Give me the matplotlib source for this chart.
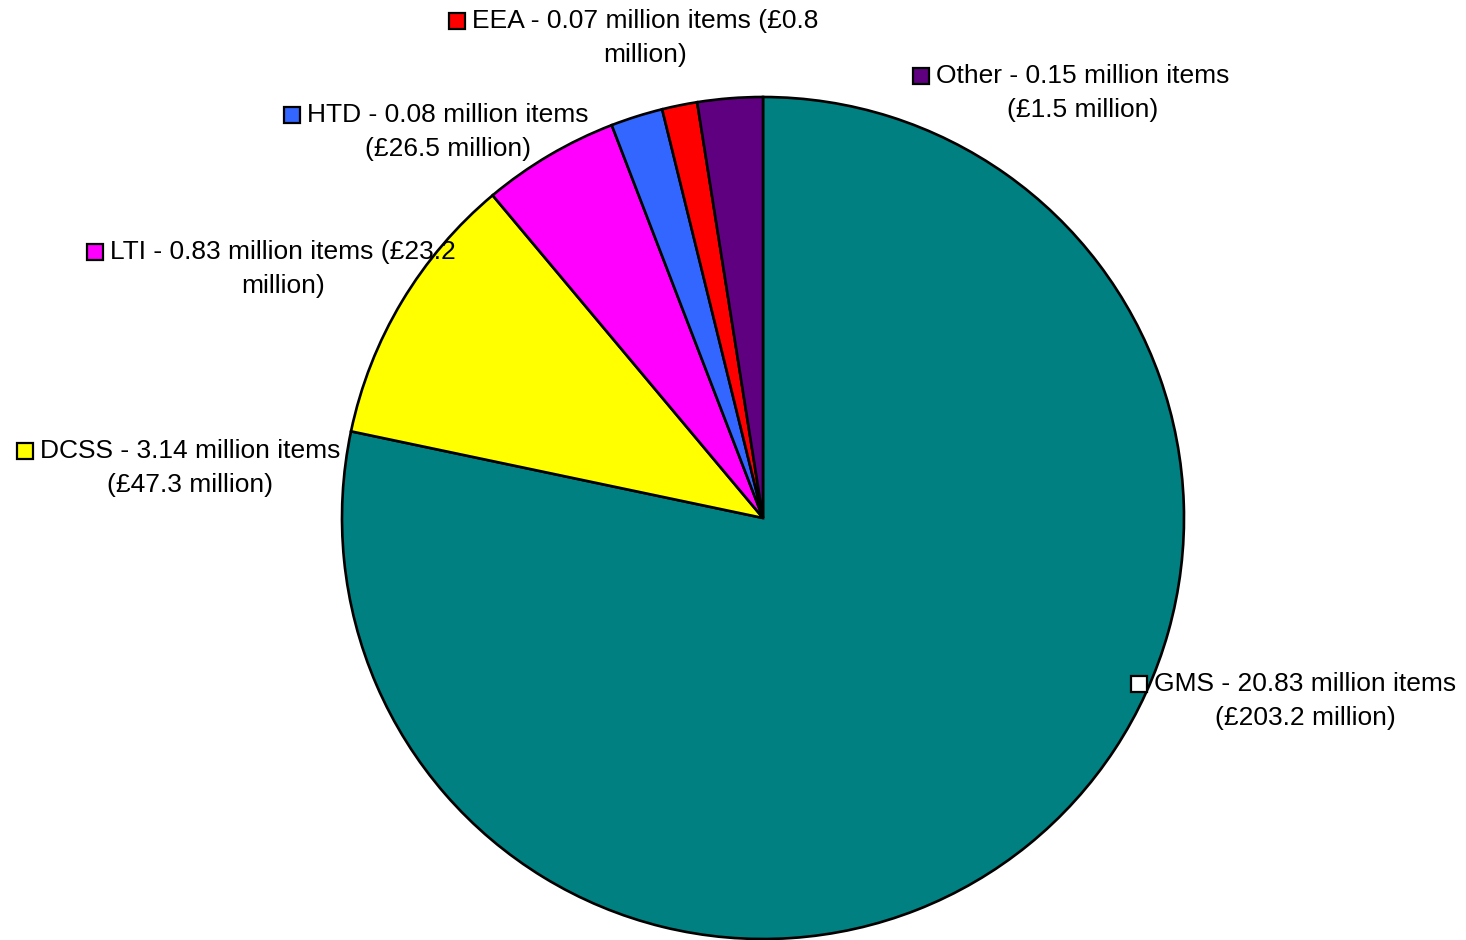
import matplotlib
matplotlib.use('Agg')
import matplotlib.pyplot as plt
from matplotlib.patches import Rectangle

plt.rcParams['font.family'] = ['Liberation Sans', 'DejaVu Sans']

# slice shares (percent of the circle)
names = ['GMS', 'DCSS', 'LTI', 'HTD', 'EEA', 'Other']
shares = [78.3, 10.6, 5.25, 2.0, 1.35, 2.5]
items = [20.83, 3.14, 0.83, 0.08, 0.07, 0.15]
costs = [203.2, 47.3, 23.2, 26.5, 0.8, 1.5]
colours = ['#008080', '#FFFF00', '#FF00FF', '#3366FF', '#FF0000', '#5E0080']
key_colours = ['white', '#FFFF00', '#FF00FF', '#3366FF', '#FF0000', '#5E0080']
# where the second line starts: after "items" or after the "(£x.x"
wrap_after_items = [True, True, False, True, False, True]

W, H = 1466, 940
fig = plt.figure(figsize=(W / 100, H / 100), dpi=100)
ax = fig.add_axes([0, 0, 1, 1])

ax.pie(shares, colors=colours, startangle=90, counterclock=False,
       center=(763, H - 518), radius=421,
       wedgeprops=dict(edgecolor='black', linewidth=1.9))
ax.set_xlim(0, W)
ax.set_ylim(0, H)
ax.set_aspect('equal')
ax.axis('off')

# label block centres in pixels (x, y from the top)
label_pos = [(1305, 701), (190, 468), (283, 269), (448, 132), (645, 38), (1083, 93)]

fs = 19
fig.canvas.draw()
renderer = fig.canvas.get_renderer()
for i, name in enumerate(names):
    first = f"{name} - {items[i]:.2f} million items"
    second = f"(£{costs[i]} million)"
    if not wrap_after_items[i]:
        first = first + f" (£{costs[i]}"
        second = "million)"
    x, y = label_pos[i]
    ax.text(x, H - y, first + "\n" + second, ha='center', va='center',
            multialignment='center', fontsize=fs, linespacing=1.48, zorder=5)
    # small key square in front of the first line
    tmp = ax.text(0, 0, first, fontsize=fs)
    w1 = tmp.get_window_extent(renderer).width
    tmp.remove()
    sq = 16
    x_right = x - w1 / 2 - 7
    y_mid = H - (y - 17)
    ax.add_patch(Rectangle((x_right - sq, y_mid - sq / 2), sq, sq,
                           facecolor=key_colours[i], edgecolor='black',
                           linewidth=1.6, zorder=6))

fig.savefig('out.png', dpi=100)
